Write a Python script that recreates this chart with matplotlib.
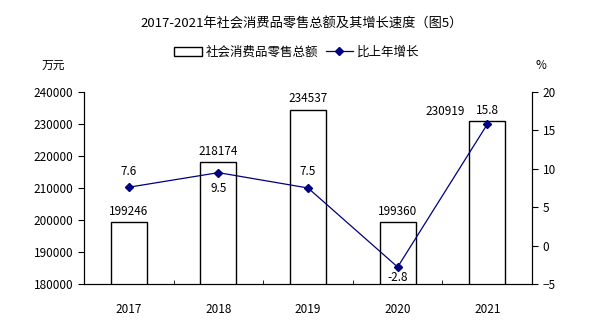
import numpy as np
import matplotlib.pyplot as plt
from matplotlib.patches import Patch
from matplotlib.lines import Line2D

plt.rcParams['font.family'] = ['Noto Sans CJK SC', 'DejaVu Sans']

years = ["2017", "2018", "2019", "2020", "2021"]
sales = [199246, 218174, 234537, 199360, 230919]
growth = [7.6, 9.5, 7.5, -2.8, 15.8]

fig = plt.figure(figsize=(6.06, 3.36), dpi=100)
ax = fig.add_axes([0.1386, 0.155, 0.7394, 0.571])
ax2 = ax.twinx()

x = np.arange(len(years))
ax.bar(x, sales, width=0.4, color="white", edgecolor="black", linewidth=1, zorder=2)
ax.set_ylim(180000, 240000)
ax.set_xlim(-0.5, 4.5)
ax.set_yticks(range(180000, 240001, 10000))
ax.set_xticks(x)
ax.set_xticklabels(years)
ax.set_xticks(np.arange(0.5, 4.5, 1), minor=True)
ax.tick_params(axis="x", which="major", length=0, pad=14, labelsize=8.5)
ax.tick_params(axis="x", which="minor", direction="in", length=3)
ax.tick_params(axis="y", direction="out", length=4, labelsize=8.5)

ax2.plot(x, growth, color="#000080", linewidth=0.9, marker="D", markersize=4, zorder=3)
ax2.set_ylim(-5, 20)
ax2.set_yticks(range(-5, 21, 5))
ax2.tick_params(axis="y", direction="out", length=4, labelsize=8.5)

for a in (ax, ax2):
    a.spines["top"].set_visible(False)
ax.set_zorder(ax2.get_zorder() - 1)
ax.patch.set_visible(False)

# bar labels
for i, v in enumerate(sales):
    if i == 4:
        ax.annotate(str(v), (i, v), xytext=(-30, 2), textcoords="offset points",
                    ha="center", va="bottom", fontsize=8.5)
    else:
        ax.annotate(str(v), (i, v), xytext=(0, 3), textcoords="offset points",
                    ha="center", va="bottom", fontsize=8.5)

# growth labels
offs = [(0, 7), (0, -7), (0, 7), (0, -3), (0, 5)]
for i, v in enumerate(growth):
    dx, dy = offs[i]
    ax2.annotate(f"{v}", (i, v), xytext=(dx, dy), textcoords="offset points",
                 ha="center", va="bottom" if dy > 0 else "top", fontsize=8.5)

fig.text(0.497, 0.93, "2017-2021年社会消费品零售总额及其增长速度（图5）",
         ha="center", va="center", fontsize=9.5)
fig.text(0.088, 0.805, "万元", ha="center", va="center", fontsize=8.5)
fig.text(0.893, 0.805, "%", ha="center", va="center", fontsize=8.5)

handles = [Patch(facecolor="white", edgecolor="black", linewidth=1),
           Line2D([], [], color="#000080", marker="D", markersize=4, linewidth=0.9)]
fig.legend(handles, ["社会消费品零售总额", "比上年增长"], loc="center",
           bbox_to_anchor=(0.49, 0.845), ncol=2, frameon=False, fontsize=9,
           handlelength=2.2, handleheight=0.7, columnspacing=0.6, handletextpad=0.3)

fig.savefig("out.png", dpi=100)
